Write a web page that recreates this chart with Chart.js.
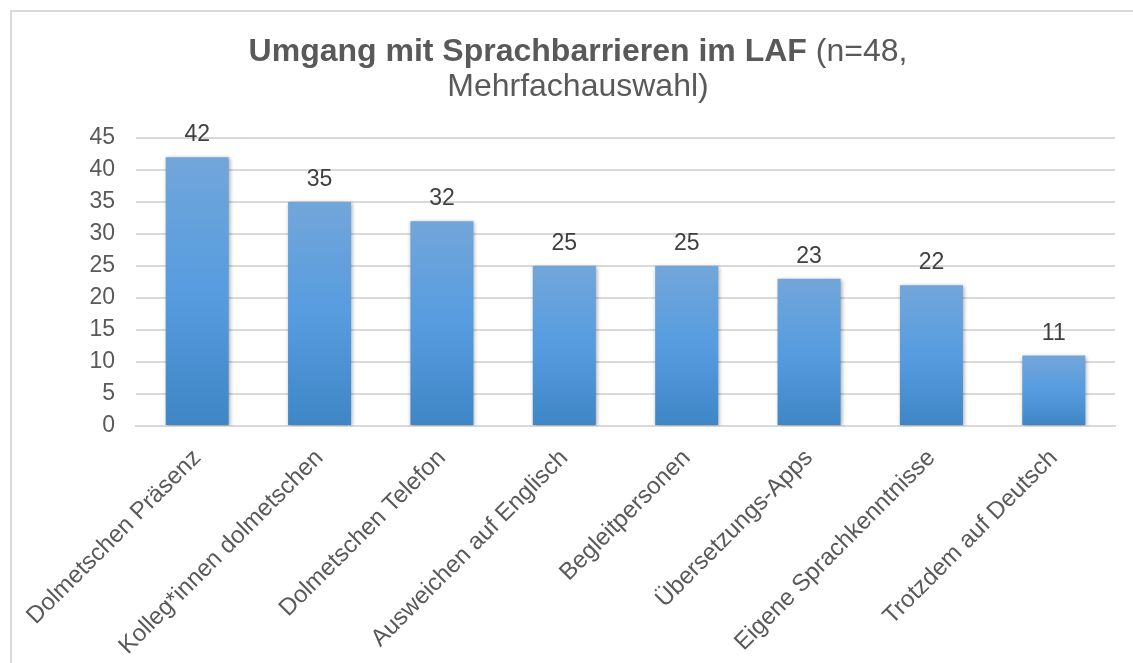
<!DOCTYPE html>
<html>
<head>
<meta charset="utf-8">
<script src="https://cdn.jsdelivr.net/npm/chart.js@4"></script>
<style>
  html, body { margin: 0; padding: 0; background: #fff; }
  .container { width: 1133px; height: 663px; position: relative; }
</style>
</head>
<body>
<div class="container">
  <canvas id="chart"></canvas>
</div>
<script>
const categories = [
  'Dolmetschen Präsenz',
  'Kolleg*innen dolmetschen',
  'Dolmetschen Telefon',
  'Ausweichen auf Englisch',
  'Begleitpersonen',
  'Übersetzungs-Apps',
  'Eigene Sprachkenntnisse',
  'Trotzdem auf Deutsch'
];
const answers = [42, 35, 32, 25, 25, 23, 22, 11];
const yMax = 45;
const yStep = 5;
const titleBold = 'Umgang mit Sprachbarrieren im LAF';
const titleRest = '(n=48,';
const titleLine2 = 'Mehrfachauswahl)';

const FONT = '"Liberation Sans", Arial, sans-serif';

// frame, title, data labels and bar shadow
const decorations = {
  id: 'decorations',
  beforeDraw(chart) {
    const ctx = chart.ctx;
    ctx.save();
    ctx.strokeStyle = '#d9d9d9';
    ctx.lineWidth = 2;
    ctx.beginPath();
    ctx.moveTo(11, chart.height);
    ctx.lineTo(11, 11);
    ctx.lineTo(chart.width, 11);
    ctx.stroke();

    // title, bold part + normal part on line 1
    ctx.fillStyle = '#595959';
    ctx.textBaseline = 'alphabetic';
    ctx.textAlign = 'left';
    ctx.font = 'bold 32px ' + FONT;
    const wb = ctx.measureText(titleBold).width;
    ctx.font = '32px ' + FONT;
    const ws = ctx.measureText(' ').width;
    const wr = ctx.measureText(titleRest).width;
    const cx = 578;
    let x = cx - (wb + ws + wr) / 2;
    ctx.font = 'bold 32px ' + FONT;
    ctx.fillText(titleBold, x, 61);
    ctx.font = '32px ' + FONT;
    ctx.fillText(titleRest, x + wb + ws, 61);
    ctx.textAlign = 'center';
    ctx.fillText(titleLine2, cx, 96);
    ctx.restore();
  },
  beforeDatasetsDraw(chart) {
    const ctx = chart.ctx;
    ctx.save();
    ctx.shadowColor = 'rgba(0,0,0,0.35)';
    ctx.shadowBlur = 4;
    ctx.shadowOffsetX = 1;
    ctx.shadowOffsetY = 1;
  },
  afterDatasetsDraw(chart) {
    const ctx = chart.ctx;
    ctx.restore();
    ctx.save();
    ctx.fillStyle = '#404040';
    ctx.font = '23px ' + FONT;
    ctx.textAlign = 'center';
    ctx.textBaseline = 'alphabetic';
    const meta = chart.getDatasetMeta(0);
    meta.data.forEach((bar, i) => {
      ctx.fillText(String(answers[i]), bar.x, bar.y - 16);
    });
    ctx.restore();
  }
};

const barGradient = (context) => {
  const chart = context.chart;
  const y = chart.scales && chart.scales.y;
  if (!y || context.raw === undefined) return '#5b9bd5';
  const top = y.getPixelForValue(context.raw);
  const bottom = y.getPixelForValue(0);
  if (!isFinite(top) || !isFinite(bottom) || top === bottom) return '#5b9bd5';
  const g = chart.ctx.createLinearGradient(0, top, 0, bottom);
  g.addColorStop(0, '#72a6da');
  g.addColorStop(0.5, '#569cdf');
  g.addColorStop(1, '#3f86c6');
  return g;
};

const ctx = document.getElementById('chart').getContext('2d');
new Chart(ctx, {
  type: 'bar',
  data: {
    labels: categories,
    datasets: [{
      label: 'Anzahl',
      data: answers,
      backgroundColor: barGradient,
      borderWidth: 0,
      categoryPercentage: 1,
      barPercentage: 0.515
    }]
  },
  options: {
    responsive: true,
    maintainAspectRatio: false,
    animation: false,
    layout: { padding: { left: 10, top: 138, right: 18, bottom: 0 } },
    plugins: {
      legend: { display: false },
      title: { display: false },
      tooltip: { enabled: false }
    },
    scales: {
      y: {
        min: 0,
        max: yMax,
        afterFit: (s) => { s.width = 126; },
        ticks: {
          stepSize: yStep,
          padding: 21,
          color: '#595959',
          font: { family: FONT, size: 23 }
        },
        grid: { color: '#d9d9d9', lineWidth: 2, drawTicks: false },
        border: { display: false }
      },
      x: {
        afterFit: (s) => { s.height = 237; },
        ticks: {
          minRotation: 45,
          maxRotation: 45,
          autoSkip: false,
          padding: 18,
          color: '#595959',
          font: { family: FONT, size: 24 }
        },
        grid: { display: false, drawTicks: false },
        border: { display: true, color: '#d9d9d9', width: 2 }
      }
    }
  },
  plugins: [decorations]
});
</script>
</body>
</html>
